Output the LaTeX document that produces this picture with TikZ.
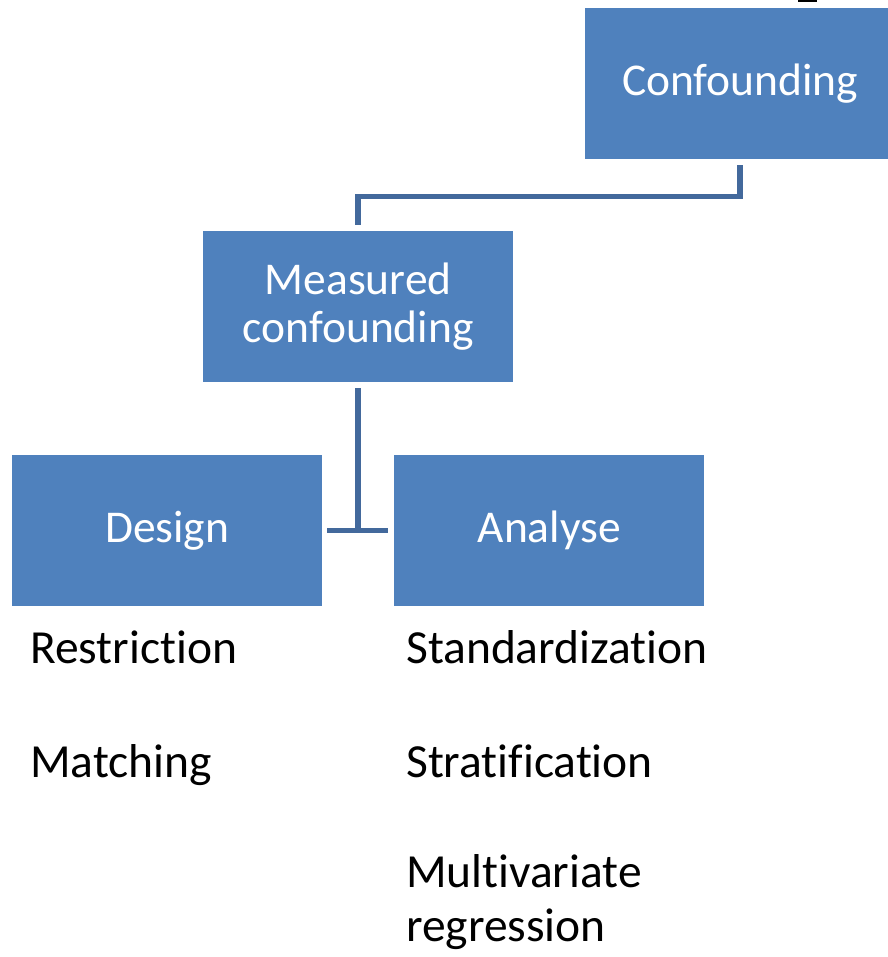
\documentclass[tikz,border=0pt]{standalone}
\usepackage{fontspec}
\setmainfont{Carlito}[Ligatures={NoCommon,NoContextual}]
\definecolor{boxblue}{HTML}{4F81BD}
\definecolor{linkblue}{HTML}{43699C}
\begin{document}
\begin{tikzpicture}[x=1pt,y=-1pt,
  box/.style={fill=boxblue, text=white, anchor=north west,
    minimum width=310pt, minimum height=151pt, inner sep=0pt,
    align=center, font=\fontsize{45.5}{48}\selectfont},
  link/.style={draw=linkblue, line width=5.5pt},
  item/.style={anchor=base west, inner sep=0pt, font=\fontsize{47.5}{54}\selectfont}]
\useasboundingbox (0,0) rectangle (887,957);

% hierarchy boxes
\node[box] (conf) at (585,8) {Confounding};
\node[box] (meas) at (203,231) {Measured\\confounding};
\node[box] (design) at (12,455) {Design};
\node[box] (analyse) at (394,455) {Analyse};

% elbow connectors
\draw[link, shorten <=6pt, shorten >=6pt]
  (conf.south) -- ++(0,37) -| (meas.north);
\draw[link, shorten <=6pt]
  (meas.south) -- (meas.south |- design.east);
\draw[link, shorten <=5pt, shorten >=6pt]
  (design.east) -- (analyse.west);

% small dark mark at the top edge
\fill[black] (798,0) rectangle (817,1.6);

% method lists
\node[item] (restr) at (30,663) {Restriction};
\node[item] (match) at (30,777) {Matching};
\node[item] (stand) at (406,663) {Standardization};
\node[item] (strat) at (406,777) {Stratification};
\node[item] (multi) at (406,887) {Multivariate};
\node[item] (regr) at (406,941) {regression};
\end{tikzpicture}
\end{document}
